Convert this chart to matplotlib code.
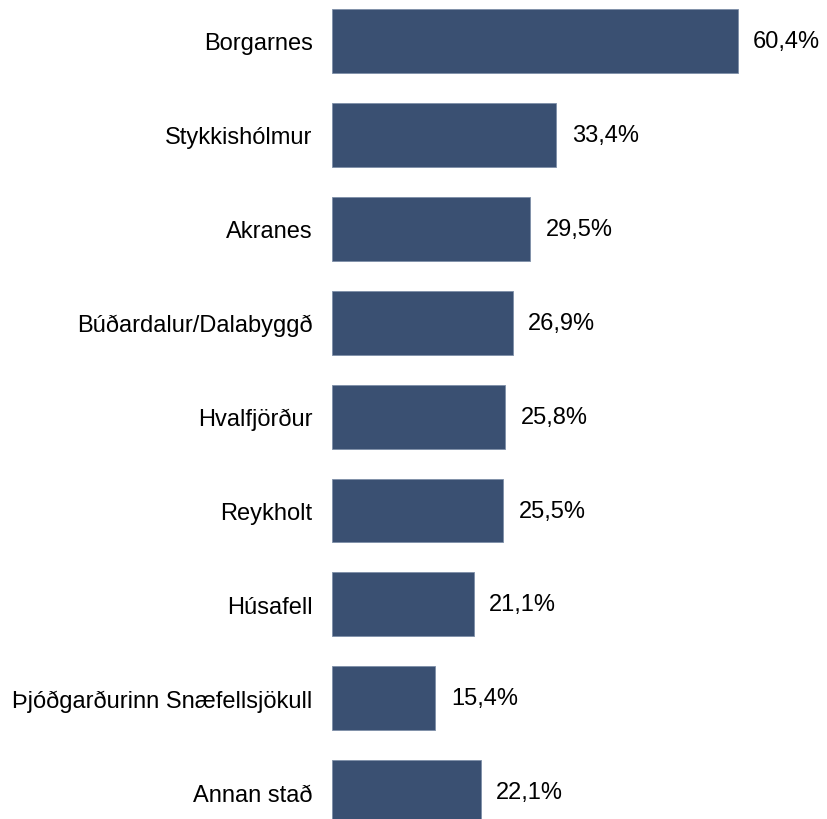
import matplotlib.pyplot as plt

plt.rcParams["font.family"] = ["Liberation Sans", "DejaVu Sans"]

categories = [
    "Borgarnes",
    "Stykkishólmur",
    "Akranes",
    "Búðardalur/Dalabyggð",
    "Hvalfjörður",
    "Reykholt",
    "Húsafell",
    "Þjóðgarðurinn Snæfellsjökull",
    "Annan stað",
]
values = [60.4, 33.4, 29.5, 26.9, 25.8, 25.5, 21.1, 15.4, 22.1]
value_labels = ["60,4%", "33,4%", "29,5%", "26,9%", "25,8%", "25,5%", "21,1%", "15,4%", "22,1%"]

BAR_COLOR = "#3a5072"

fig = plt.figure(figsize=(8.28, 8.20), dpi=100)
ax = fig.add_axes([332 / 828, 0, 496 / 828, 1])

ypos = list(range(len(categories)))
ax.barh(ypos, values, height=0.68, color=BAR_COLOR, edgecolor="#7d8ea8", linewidth=0.6)

for y, v, lab in zip(ypos, values, value_labels):
    ax.annotate(lab, (v, y), xytext=(11, 0), textcoords="offset points",
                ha="left", va="center", fontsize=17, color="#000000")

ax.set_xlim(0, 496 / 6.72)
ax.set_ylim(8.285, -0.447)
ax.set_yticks(ypos)
ax.set_yticklabels(categories, fontsize=17)
ax.tick_params(axis="y", length=0, pad=14)
ax.set_xticks([])
for s in ax.spines.values():
    s.set_visible(False)

fig.savefig("out.png", dpi=100)
plt.close(fig)
